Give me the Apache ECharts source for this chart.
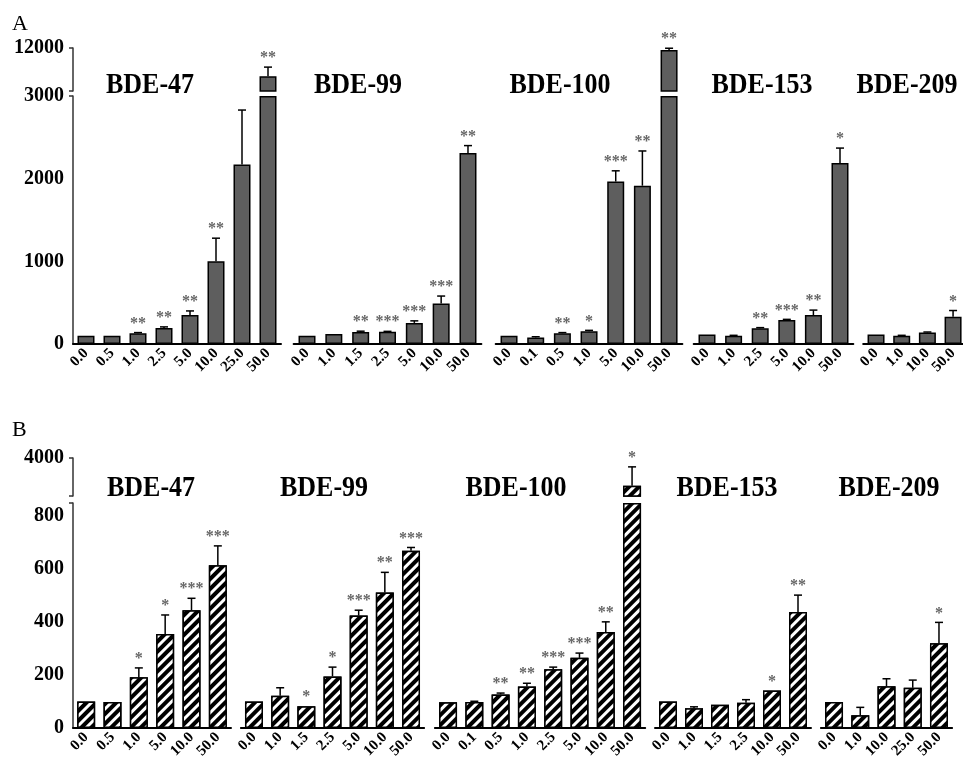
<!DOCTYPE html>
<html>
<head>
<meta charset="utf-8">
<script src="https://cdn.jsdelivr.net/npm/echarts@6/dist/echarts.min.js"></script>
<style>
html,body{margin:0;padding:0;background:#fff;}
#chart{width:963px;height:763px;}
</style>
</head>
<body>
<div id="chart"></div>
<script>
// ---------- DATA: Panel A ----------
const catA47 = ['0.0','0.5','1.0','2.5','5.0','10.0','25.0','50.0'];
const valA47 = [100,100,130,195,350,1000,2170,6100];
const errA47 = [0,0,8,12,50,280,660,1900];
const sigA47 = ['','','**','**','**','**','','**'];

const catA99 = ['0.0','1.0','1.5','2.5','5.0','10.0','50.0'];
const valA99 = [100,120,145,148,255,490,2310];
const errA99 = [0,0,10,5,25,90,90];
const sigA99 = ['','','**','***','***','***','**'];

const catA100 = ['0.0','0.1','0.5','1.0','5.0','10.0','50.0'];
const valA100 = [100,80,130,155,1965,1915,11600];
const errA100 = [0,8,8,10,130,420,350];
const sigA100 = ['','','**','*','***','**','**'];

const catA153 = ['0.0','1.0','2.5','5.0','10.0','50.0'];
const valA153 = [115,100,190,290,350,2190];
const errA153 = [0,5,8,8,60,180];
const sigA153 = ['','','**','***','**','*'];

const catA209 = ['0.0','1.0','10.0','50.0'];
const valA209 = [115,100,140,330];
const errA209 = [0,5,5,75];
const sigA209 = ['','','','*'];

const yTicksA = [0,1000,2000,3000];
const yTopA = [12000];

// ---------- DATA: Panel B ----------
const catB47 = ['0.0','0.5','1.0','5.0','10.0','50.0'];
const valB47 = [100,98,192,355,445,615];
const errB47 = [0,0,35,72,45,73];
const sigB47 = ['','','*','*','***','***'];

const catB99 = ['0.0','1.0','1.5','2.5','5.0','10.0','50.0'];
const valB99 = [100,122,82,195,425,512,670];
const errB99 = [0,30,0,35,20,76,12];
const sigB99 = ['','','*','*','***','**','***'];

const catB100 = ['0.0','0.1','0.5','1.0','2.5','5.0','10.0','50.0'];
const valB100 = [97,98,127,157,222,265,363,1800];
const errB100 = [0,3,5,12,8,18,38,1500];
const sigB100 = ['','','**','**','***','***','**','*'];

const catB153 = ['0.0','1.0','1.5','2.5','10.0','50.0'];
const valB153 = [100,75,88,95,142,438];
const errB153 = [0,5,0,12,0,64];
const sigB153 = ['','','','','*','**'];

const catB209 = ['0.0','1.0','10.0','25.0','50.0'];
const valB209 = [98,48,158,152,320];
const errB209 = [0,30,28,29,79];
const sigB209 = ['','','','','*'];

const yTicksB = [0,200,400,600,800];
const yTopB = [4000];

// ---------- LAYOUT ----------
const panelA = {
  letter:'A', letterY:24,
  lowerTop:96, lowerBottom:344, lowerMax:3000, lowerTicks:yTicksA,
  upperTop:48, upperBottom:91, upperMin:3000, upperMax:12000, upperTicks:yTopA,
  barWidth:17, titleY:85,
  groups:[
    {name:'BDE-47', cats:catA47, vals:valA47, errs:errA47, sig:sigA47, x0:73, x1:281, tx:150},
    {name:'BDE-99', cats:catA99, vals:valA99, errs:errA99, sig:sigA99, x0:293.6, x1:481.4, tx:358},
    {name:'BDE-100', cats:catA100, vals:valA100, errs:errA100, sig:sigA100, x0:495.7, x1:682.4, tx:560},
    {name:'BDE-153', cats:catA153, vals:valA153, errs:errA153, sig:sigA153, x0:693.7, x1:853.3, tx:762},
    {name:'BDE-209', cats:catA209, vals:valA209, errs:errA209, sig:sigA209, x0:863.2, x1:965.9, tx:907}
  ]
};
const panelB = {
  letter:'B', letterY:430,
  lowerTop:503, lowerBottom:728, lowerMax:850, lowerTicks:yTicksB,
  upperTop:458, upperBottom:496, upperMin:1000, upperMax:4000, upperTicks:yTopB,
  barWidth:18, titleY:488,
  groups:[
    {name:'BDE-47', cats:catB47, vals:valB47, errs:errB47, sig:sigB47, x0:73, x1:231, tx:151},
    {name:'BDE-99', cats:catB99, vals:valB99, errs:errB99, sig:sigB99, x0:240.9, x1:424.1, tx:324},
    {name:'BDE-100', cats:catB100, vals:valB100, errs:errB100, sig:sigB100, x0:434.9, x1:645.2, tx:516},
    {name:'BDE-153', cats:catB153, vals:valB153, errs:errB153, sig:sigB153, x0:655, x1:811, tx:727},
    {name:'BDE-209', cats:catB209, vals:valB209, errs:errB209, sig:sigB209, x0:820.9, x1:952.1, tx:889}
  ]
};

const styleA = {color:'#5e5e5e', borderColor:'#000', borderWidth:1.5};
const styleB = {color:'#000', borderColor:'#000', borderWidth:1.5,
  decal:{symbol:'rect', symbolSize:1, dashArrayX:[1,0], dashArrayY:[2.5,3.5], rotation:-Math.PI/4, color:'#ffffff'}};

const FONT = 'Liberation Serif';
const grids=[], xAxes=[], yAxes=[], series=[], graphics=[];

function errRender(sig){
  return function(params, api){
    const i = api.value(0), v = api.value(1), top = api.value(2);
    const p0 = api.coord([i, v]);
    const p1 = api.coord([i, top]);
    const ch = [];
    if (top > v) {
      ch.push({type:'line', shape:{x1:p0[0], y1:p0[1], x2:p1[0], y2:p1[1]}, style:{stroke:'#000', lineWidth:1.5}});
      ch.push({type:'line', shape:{x1:p1[0]-4, y1:p1[1], x2:p1[0]+4, y2:p1[1]}, style:{stroke:'#000', lineWidth:1.5}});
    }
    const s = sig[i];
    if (s) {
      ch.push({type:'text', x:p1[0], y:p1[1]-1,
        style:{text:s, fill:'#666', font:'bold 16px "'+FONT+'"', align:'center', verticalAlign:'bottom',
               textAlign:'center', textVerticalAlign:'bottom'}});
    }
    return {type:'group', children:ch};
  };
}

function plain(v){ return String(v); }

function addPanel(P, barStyle){
  graphics.push({type:'text', x:12, y:P.letterY, style:{text:P.letter, font:'22px "'+FONT+'"', fill:'#000', textVerticalAlign:'middle', verticalAlign:'middle'}});
  P.groups.forEach(function(g, gi){
    const lo = grids.length;
    grids.push({left:g.x0, width:g.x1-g.x0, top:P.lowerTop, height:P.lowerBottom-P.lowerTop, outerBoundsMode:'none'});
    const up = grids.length;
    grids.push({left:g.x0, width:g.x1-g.x0, top:P.upperTop, height:P.upperBottom-P.upperTop, outerBoundsMode:'none'});
    xAxes.push({gridIndex:lo, type:'category', data:g.cats,
      axisLine:{lineStyle:{color:'#000', width:2}},
      axisTick:{alignWithLabel:true, length:4, lineStyle:{color:'#000', width:1.5}},
      axisLabel:{rotate:45, interval:0, hideOverlap:false, color:'#000', fontFamily:FONT, fontWeight:'bold', fontSize:15, margin:7}});
    xAxes.push({gridIndex:up, type:'category', data:g.cats, show:false});
    const yCommon = {type:'value', show:gi===0, splitLine:{show:false},
      axisLine:{show:true, lineStyle:{color:'#333', width:1.5}}};
    yAxes.push(Object.assign({}, yCommon, {gridIndex:lo, min:0, max:P.lowerMax,
      axisTick:{show:true, customValues:[P.lowerMax], length:4, lineStyle:{color:'#333', width:1.5}},
      axisLabel:{customValues:P.lowerTicks, formatter:plain, color:'#000', fontFamily:FONT, fontWeight:'bold', fontSize:20, margin:9}}));
    yAxes.push(Object.assign({}, yCommon, {gridIndex:up, min:P.upperMin, max:P.upperMax,
      axisTick:{show:true, customValues:[P.upperMin, P.upperMax], length:4, lineStyle:{color:'#333', width:1.5}},
      axisLabel:{customValues:P.upperTicks, formatter:plain, color:'#000', fontFamily:FONT, fontWeight:'bold', fontSize:20, margin:9}}));

    series.push({type:'bar', xAxisIndex:lo, yAxisIndex:lo, barWidth:P.barWidth, clip:false,
      data:g.vals.map(function(v){return Math.min(v, P.lowerMax);}), itemStyle:barStyle});
    series.push({type:'bar', xAxisIndex:up, yAxisIndex:up, barWidth:P.barWidth,
      data:g.vals.map(function(v){return v > P.lowerMax ? v : '-';}), itemStyle:barStyle});
    const loErr = [], upErr = [];
    g.vals.forEach(function(v, i){
      const item = [i, v, v + g.errs[i]];
      if (v > P.lowerMax) upErr.push(item); else loErr.push(item);
    });
    series.push({type:'custom', xAxisIndex:lo, yAxisIndex:lo, z:5, data:loErr, renderItem:errRender(g.sig), encode:{x:0, y:[1,2]}});
    if (upErr.length) series.push({type:'custom', xAxisIndex:up, yAxisIndex:up, z:5, data:upErr, renderItem:errRender(g.sig), encode:{x:0, y:[1,2]}});

    graphics.push({type:'text', x:g.tx, y:P.titleY, scaleY:1.15,
      style:{text:g.name, font:'bold 26px "'+FONT+'"', fill:'#000', textAlign:'center', textVerticalAlign:'middle', align:'center', verticalAlign:'middle'}});
  });
}
addPanel(panelA, styleA);
addPanel(panelB, styleB);

const chart = echarts.init(document.getElementById('chart'), null, {renderer:'canvas'});
chart.setOption({
  animation:false,
  backgroundColor:'#fff',
  grid:grids, xAxis:xAxes, yAxis:yAxes, series:series, graphic:graphics
});
</script>
</body>
</html>
